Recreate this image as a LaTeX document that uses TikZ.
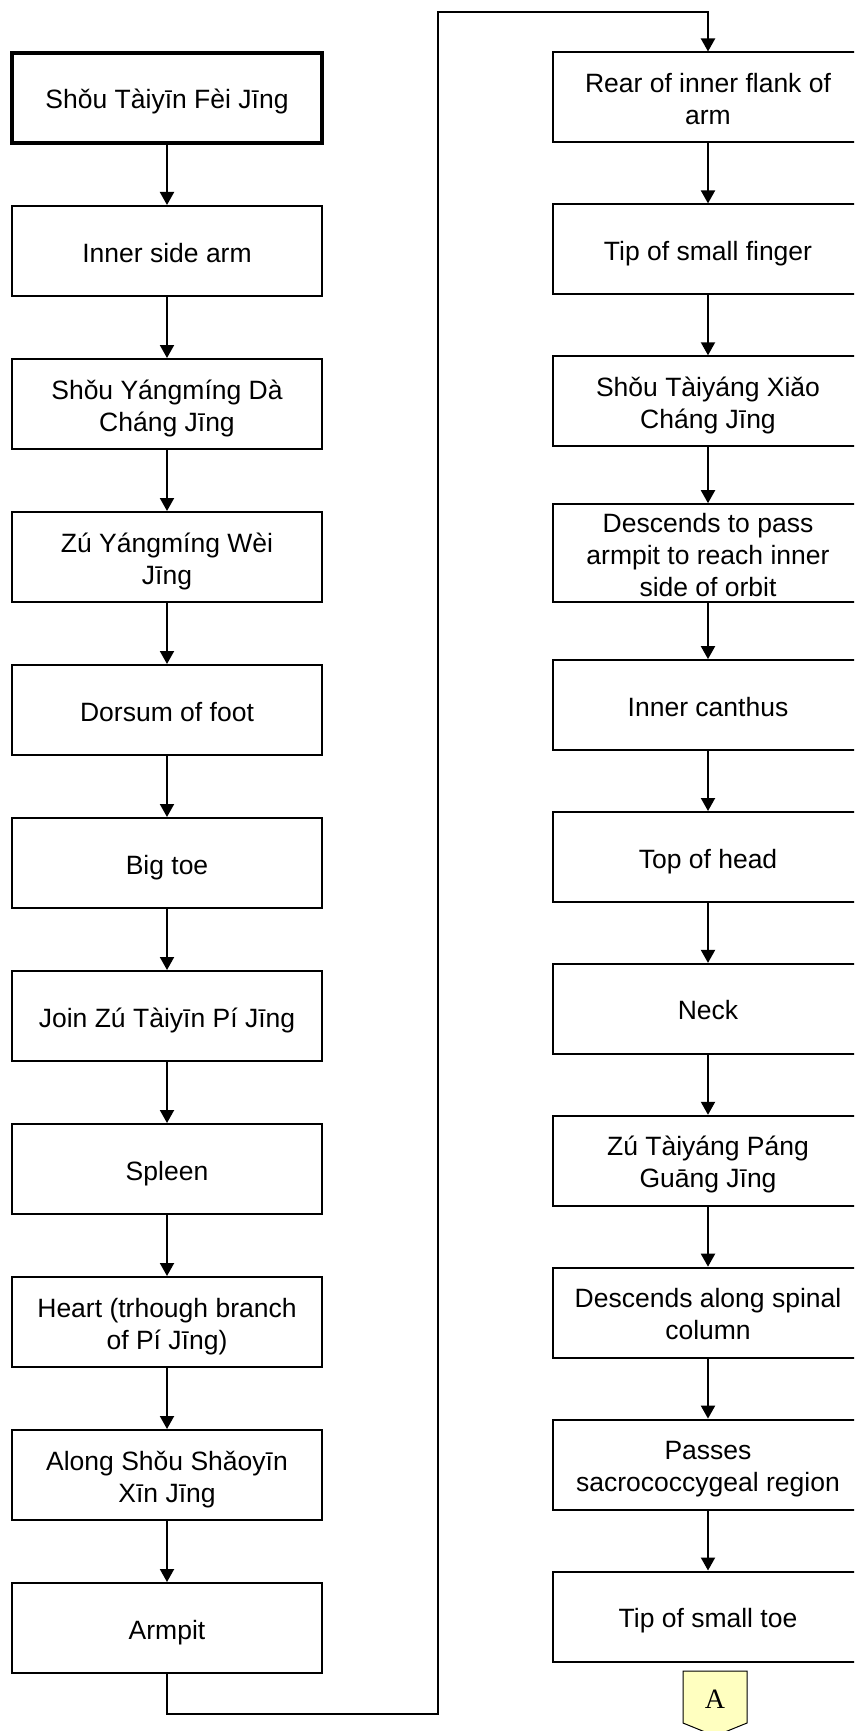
\documentclass[tikz,border=0pt]{standalone}
\usepackage{fontspec}
\setmainfont{Liberation Sans}
\newfontfamily\serifA{Liberation Serif}
\usetikzlibrary{arrows.meta}
\definecolor{offyellow}{RGB}{255,255,192}
\newcommand\tp{\rule{0pt}{28pt}}
\newcommand\bt{\rule[-6pt]{0pt}{6pt}}
\begin{document}
\begin{tikzpicture}[x=1pt,y=-1pt,
  box/.style={draw, line width=2pt, minimum width=310pt, minimum height=90pt,
    align=center, inner sep=0pt, font=\fontsize{26.5}{32}\selectfont},
  startbox/.style={box, line width=4pt},
  link/.style={line width=2pt, -{Triangle[width=14pt,length=13pt]}},
  offpage/.style={draw, line width=1pt, fill=offyellow},
]
\useasboundingbox (0,0) rectangle (854,1731);
\clip (0,0) rectangle (854,1731);
% left column
\node[startbox] (L0) at (167,98) {\tp Shǒu Tàiyīn Fèi Jīng\bt};
\node[box] (L1) at (167,251) {\tp Inner side arm\bt};
\node[box] (L2) at (167,404) {\tp Shǒu Yángmíng Dà\\Cháng Jīng\bt};
\node[box] (L3) at (167,557) {\tp Zú Yángmíng Wèi\\Jīng\bt};
\node[box] (L4) at (167,710) {\tp Dorsum of foot\bt};
\node[box] (L5) at (167,863) {\tp Big toe\bt};
\node[box] (L6) at (167,1016) {\tp Join Zú Tàiyīn Pí Jīng\bt};
\node[box] (L7) at (167,1169) {\tp Spleen\bt};
\node[box] (L8) at (167,1322) {\tp Heart (trhough branch\\of Pí Jīng)\bt};
\node[box] (L9) at (167,1475) {\tp Along Shǒu Shǎoyīn\\Xīn Jīng\bt};
\node[box] (L10) at (167,1628) {\tp Armpit\bt};
% right column
\node[box] (R0) at (708,97.5) {\tp Rear of inner flank of\\arm\bt};
\node[box] (R1) at (708,249.4) {\tp Tip of small finger\bt};
\node[box] (R2) at (708,401.3) {\tp Shǒu Tàiyáng Xiǎo\\Cháng Jīng\bt};
\node[box] (R3) at (708,553.2) {\tp Descends to pass\\armpit to reach inner\\side of orbit\bt};
\node[box] (R4) at (708,705.1) {\tp Inner canthus\bt};
\node[box] (R5) at (708,857) {\tp Top of head\bt};
\node[box] (R6) at (708,1008.9) {\tp Neck\bt};
\node[box] (R7) at (708,1160.8) {\tp Zú Tàiyáng Páng\\Guāng Jīng\bt};
\node[box] (R8) at (708,1312.7) {\tp Descends along spinal\\column\bt};
\node[box] (R9) at (708,1464.6) {\tp Passes\\sacrococcygeal region\bt};
\node[box] (R10) at (708,1616.5) {\tp Tip of small toe\bt};
% connectors
\foreach \a/\b in {L0/L1,L1/L2,L2/L3,L3/L4,L4/L5,L5/L6,L6/L7,L7/L8,L8/L9,L9/L10,
  R0/R1,R1/R2,R2/R3,R3/R4,R4/R5,R5/R6,R6/R7,R7/R8,R8/R9,R9/R10}
  \draw[link] (\a.south) -- (\b.north);
\coordinate (lb) at (167,1714);
\coordinate (lt) at (438,12);
\draw[link] (L10.south) -- (L10.south |- lb) -| (lt) -| (R0.north);
% off-page connector
\draw[offpage] (683,1671) -- (747,1671) -- (747,1723) -- (715,1736) -- (683,1723) -- cycle;
\node[font=\serifA\fontsize{28}{30}\selectfont] (A) at (715,1699) {A};
\end{tikzpicture}
\end{document}
